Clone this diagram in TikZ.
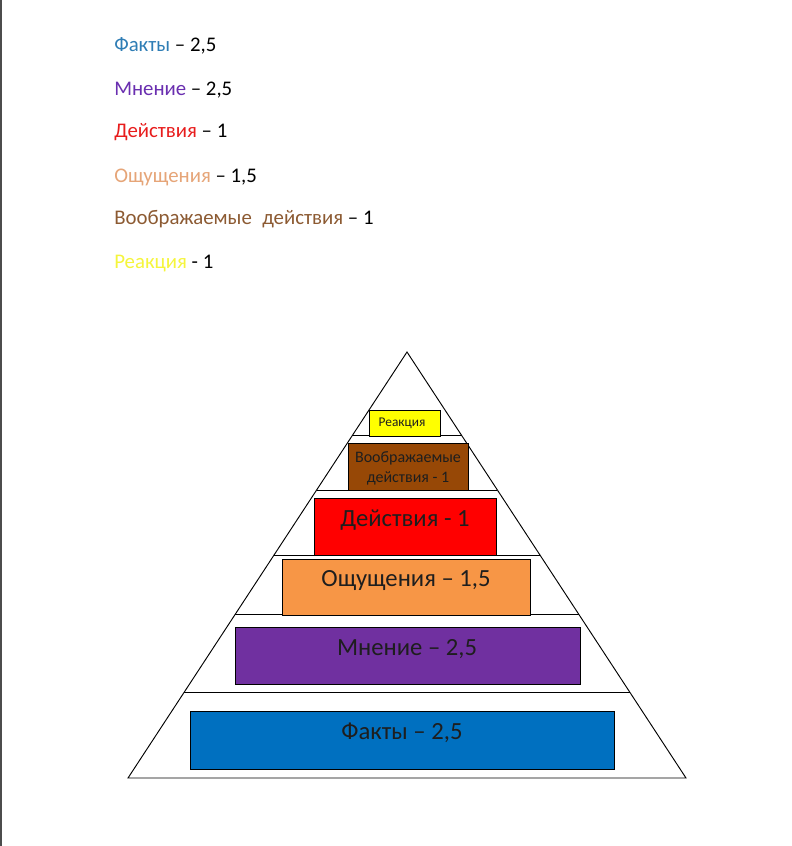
\documentclass[tikz,border=0pt]{standalone}
\usepackage{fontspec}
\setmainfont{Carlito}
\setsansfont{Carlito}
\usepackage{xcolor}
\usepackage{tikz}
\usetikzlibrary{positioning,calc}

\definecolor{faktyblue}{HTML}{0070C0}
\definecolor{mnenpurple}{HTML}{7030A0}
\definecolor{oshchorange}{HTML}{F79646}
\definecolor{deistvred}{HTML}{FF0000}
\definecolor{voobrbrown}{HTML}{974806}
\definecolor{reakyellow}{HTML}{FFFF00}
\definecolor{legblue}{HTML}{2E7DB5}
\definecolor{legpurple}{HTML}{6A2FB0}
\definecolor{legred}{HTML}{E81C1C}
\definecolor{legorange}{HTML}{E6A578}
\definecolor{legbrown}{HTML}{8C5A32}
\definecolor{legyellow}{HTML}{F5F53C}
\definecolor{inktext}{HTML}{1E1E1E}

\begin{document}
\begin{tikzpicture}[x=0.75pt, y=-0.75pt, font=\sffamily,
		lvl/.style 2 args={draw, line width=0.7pt, minimum width=#1*0.75pt, minimum height=#2*0.75pt, inner sep=0pt},
		leg/.style={anchor=base west, inner sep=0pt, font=\sffamily\fontsize{15.6}{18}\selectfont},
		big/.style={anchor=base, inner sep=0pt, text=inktext, font=\sffamily\fontsize{18.5}{22}\selectfont}]
		\useasboundingbox (0,0) rectangle (792,846);
		\fill[white] (0,0) rectangle (792,846);
		\draw[gray!60!black, line width=1.5pt] (0.75,0) -- (0.75,846);

		\node[leg] (lfakty) at (114,51) {\textcolor{legblue}{Факты} – 2,5};
		\node[leg] (lmnen) at (114,95) {\textcolor{legpurple}{Мнение} – 2,5};
		\node[leg] (ldeistv) at (114,137) {\textcolor{legred}{Действия} – 1};
		\node[leg] (loshch) at (114,182) {\textcolor{legorange}{Ощущения} – 1,5};
		\node[leg] (lvoobr) at (114,224) {\textcolor{legbrown}{Воображаемые\hspace{0.5em}действия} – 1};
		\node[leg] (lreak) at (114,268) {\textcolor{legyellow}{Реакция} - 1};

		\coordinate (apex) at (407,352);
		\coordinate (bl) at (128,778);
		\coordinate (br) at (686,778);
		\draw[line width=0.7pt] (apex) -- (bl) -- (br) -- cycle;
		\foreach \t in {0.197,0.324,0.4765,0.617,0.8}
			\draw[line width=0.7pt] ($(apex)!\t!(bl)$) -- ($(apex)!\t!(br)$);

		\node[lvl={424}{58}, fill=faktyblue] (fakty) at (402,740) {};
		\node[big] (faktytxt) at (402,739) {Факты – 2,5};
		\node[lvl={345}{57}, fill=mnenpurple] (mnen) at (407.5,655.5) {};
		\node[big] (mnentxt) at (407,655) {Мнение – 2,5};
		\node[lvl={248}{56}, fill=oshchorange] (oshch) at (406,587) {};
		\node[big] (oshchtxt) at (406,586) {Ощущения – 1,5};
		\node[lvl={182}{57}, fill=deistvred] (deistv) at (405,526.5) {};
		\node[big] (deistvtxt) at (405,526) {Действия - 1};
		\node[lvl={120}{47}, fill=voobrbrown] (voobr) at (408,466.5) {};
		\node[align=center, text=inktext, font=\sffamily\fontsize{12}{15}\selectfont] (voobrtxt) at (408,468) {Воображаемые\\действия - 1};
		\node[lvl={71}{26}, fill=reakyellow] (reak) at (404.5,423) {};
		\node[text=inktext, font=\sffamily\fontsize{10}{12}\selectfont] (reaktxt) at (402,423) {Реакция};
	\end{tikzpicture}
\end{document}
